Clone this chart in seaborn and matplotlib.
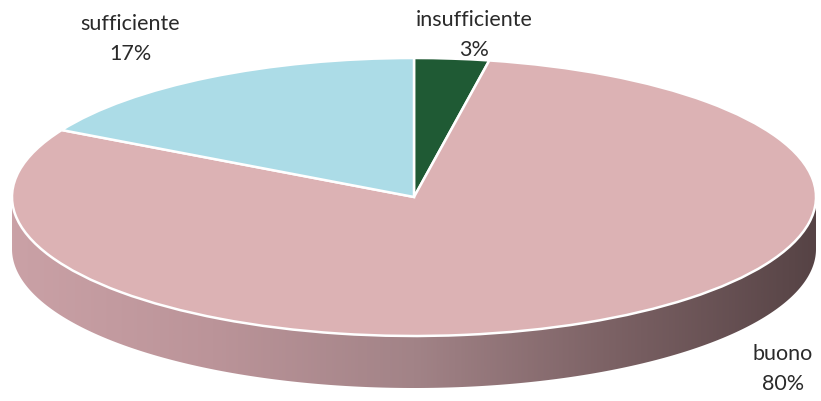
import numpy as np
import matplotlib
matplotlib.use("Agg")
import matplotlib.pyplot as plt
from matplotlib.colors import LinearSegmentedColormap
from matplotlib.patches import Polygon
import seaborn as sns

# Data
categories = ["insufficiente", "buono", "sufficiente"]
percent = [3, 80, 17]
slice_colors = ["#1f5a34", "#dcb2b4", "#acdce7"]

sns.set_theme(style="white")
plt.rcParams["font.family"] = ["Lato", "DejaVu Sans"]

W, H, DPI = 821, 401, 100
fig = plt.figure(figsize=(W / DPI, H / DPI), dpi=DPI)
ax = fig.add_axes([0, 0, 1, 1])

# Ellipse geometry in pixels (pie radius = 1 data unit)
cx_px, cy_px = 414, 197          # centre, measured from top-left
rx_px, ry_px = 402, 139
depth_px = 52
depth = depth_px / ry_px

# Side wall of the disc (front half), shaded left-to-right
theta = np.linspace(np.pi, 2 * np.pi, 300)
top_edge = np.column_stack([np.cos(theta), np.sin(theta)])
bottom_edge = top_edge[::-1] - np.array([0, depth])
side = Polygon(np.vstack([top_edge, bottom_edge]), closed=True,
               facecolor="none", edgecolor="none")
ax.add_patch(side)
side_cmap = LinearSegmentedColormap.from_list(
    "side", ["#caa1a6", "#bb9499", "#a28387", "#7b6164", "#564345"])
grad = np.linspace(0, 1, 512).reshape(1, -1)
im = ax.imshow(grad, cmap=side_cmap, aspect="auto",
               extent=(-1, 1, -1 - depth, 0.1), zorder=1)
im.set_clip_path(side)

# Top face of the pie
wedges, _ = ax.pie(percent, colors=slice_colors, startangle=90,
                   counterclock=False,
                   wedgeprops=dict(edgecolor="white", linewidth=1.8))
for w in wedges:
    w.set_zorder(2)

ax.set_aspect("auto")
ax.set_xlim(-cx_px / rx_px, (W - cx_px) / rx_px)
ax.set_ylim(-(H - cy_px) / ry_px, cy_px / ry_px)
ax.axis("off")

# Category labels with percentages
label_pos = {
    "insufficiente": (474, 35),
    "sufficiente": (130, 39),
    "buono": (783, 369),
}
for name, val in zip(categories, percent):
    px, py = label_pos[name]
    x = (px - cx_px) / rx_px
    y = (cy_px - py) / ry_px
    ax.text(x, y, f"{name}\n{val}%", ha="center", va="center",
            fontsize=15.5, color="#2a2a2a", linespacing=1.6, zorder=5)

fig.savefig("out.png", dpi=DPI)
